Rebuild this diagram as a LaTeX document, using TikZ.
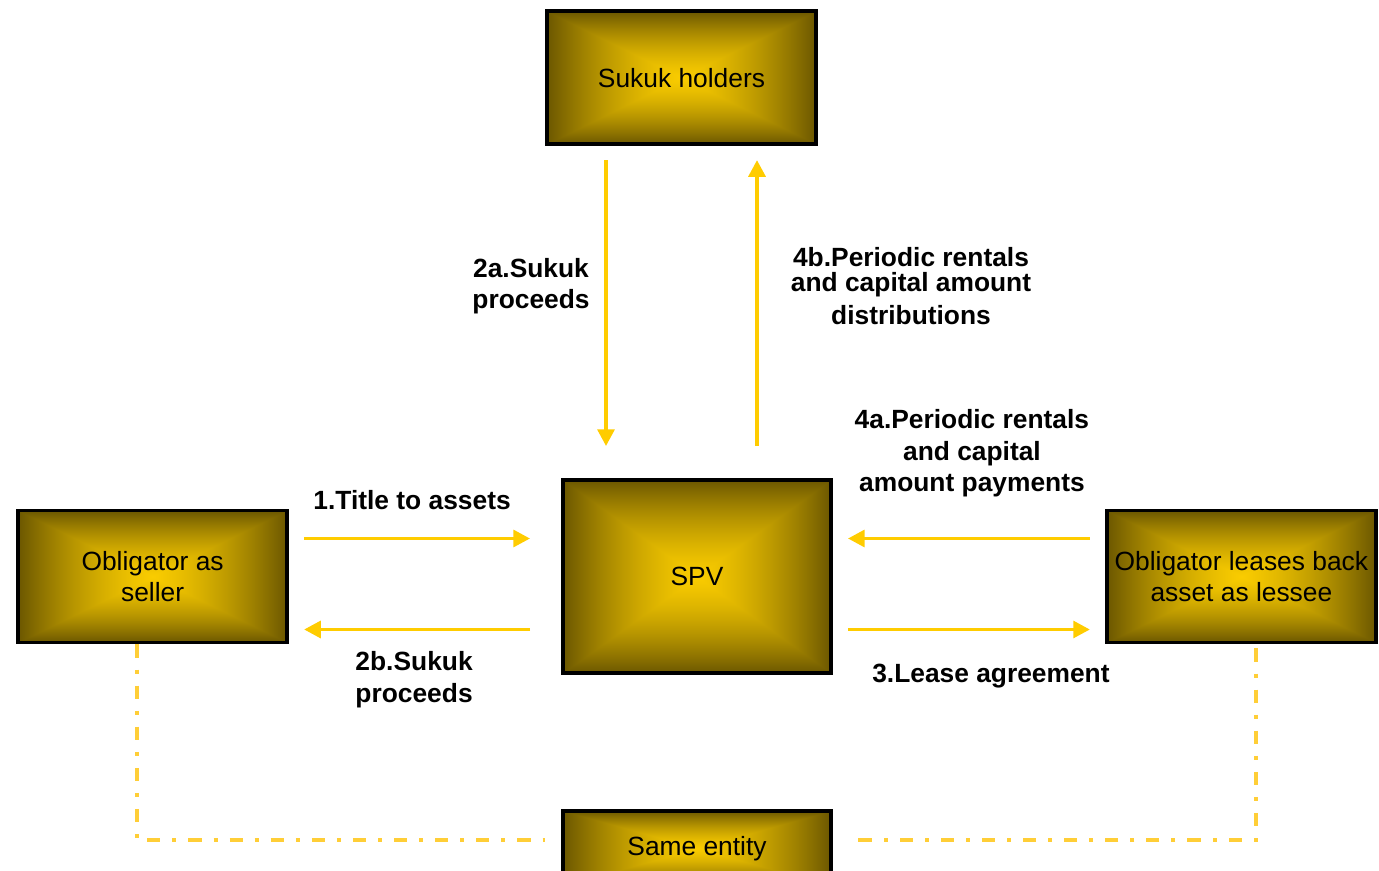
\documentclass[tikz,border=0pt]{standalone}
\usepackage{fontspec}
\setmainfont{Liberation Sans}
\usetikzlibrary{arrows.meta,positioning}
\definecolor{sukukgold}{RGB}{255,204,0}
\definecolor{linkgold}{RGB}{255,206,55}
% yellow centre fading to dark olive at the border
\pgfdeclarefunctionalshading{boxglow}{\pgfpoint{0bp}{0bp}}{\pgfpoint{100bp}{100bp}}{}{
 50 sub abs exch 50 sub abs 2 copy lt {exch} if pop 25 div
 dup 1 gt {pop 1} if
 dup dup mul add 2 div
 dup 0.56 mul 0.98 exch sub exch
 dup 0.46 mul 0.80 exch sub exch
 pop 0
}
\tikzstyle{party} = [rectangle, draw=black, line width=2.2pt, shading=boxglow,
    align=center, font=\fontsize{15}{18}\selectfont, minimum width=5.38cm]
\tikzstyle{flow} = [draw, sukukgold, line width=2.2pt, -{Triangle[length=9.5pt,width=9.5pt]}]
\tikzstyle{link} = [draw, linkgold, line width=2pt, dash pattern=on 7.5pt off 6.8pt on 2.3pt off 6.8pt]
\tikzstyle{lbl} = [font=\bfseries\fontsize{15}{18}\selectfont, align=center, inner sep=0pt, text=black]

\begin{document}
\begin{tikzpicture}
\useasboundingbox (0,0) rectangle (27.58,-17.42);
\node[party, minimum width=5.36cm, minimum height=3.86cm] (spv) at (13.94,-11.53) {SPV};
\node[party, minimum height=2.66cm, above=6.64cm of spv, xshift=-0.31cm] (holders) {Sukuk holders};
\node[party, minimum height=2.64cm, left=5.44cm of spv] (seller) {Obligator as\\seller};
\node[party, minimum height=2.64cm, right=5.44cm of spv] (lessee) {Obligator leases back\\asset as lessee};
\node[party, minimum width=5.36cm, minimum height=1.5cm, below=2.68cm of spv] (same) {Same entity};
%Vertical flows:
\coordinate (c2a) at ([xshift=-1.51cm]holders.south);
\coordinate (c4b) at ([xshift=1.51cm]holders.south);
\path(c2a)edge[flow, shorten <=0.28cm, shorten >=0.64cm]node[lbl, xshift=-1.5cm, yshift=0.52cm](l2a){2a.Sukuk\\proceeds}(c2a |- spv.north);
\path(c4b |- spv.north)edge[flow, shorten <=0.64cm, shorten >=0.28cm]node[lbl, xshift=3.08cm, yshift=0.52cm](l4b){4b.Periodic rentals\\[-3.8pt]and capital amount\\[0.8pt]distributions}(c4b);
%Left flows:
\path([yshift=0.76cm]seller.east)edge[flow, shorten <=0.3cm, shorten >=0.62cm]node[lbl, xshift=-0.26cm, yshift=0.76cm](l1){1.Title to assets}([yshift=0.76cm]spv.west);
\path([yshift=-1.06cm]spv.west)edge[flow, shorten <=0.62cm, shorten >=0.3cm]node[lbl, xshift=-0.22cm, yshift=-1.0cm](l2b){2b.Sukuk\\proceeds}([yshift=-1.06cm]seller.east);
%Right flows:
\path([yshift=0.76cm]lessee.west)edge[flow, shorten <=0.3cm, shorten >=0.3cm]node[lbl, xshift=0.06cm, yshift=1.70cm](l4a){4a.Periodic rentals\\and capital\\amount payments}([yshift=0.76cm]spv.east);
\path([yshift=-1.06cm]spv.east)edge[flow, shorten <=0.3cm, shorten >=0.3cm]node[lbl, xshift=0.44cm, yshift=-0.94cm](l3){3.Lease agreement}([yshift=-1.06cm]lessee.west);
%Same entity links:
\draw[link, shorten >=0.32cm]([xshift=-0.31cm]seller.south) |- ([yshift=0.17cm]same.west);
\draw[link, shorten >=0.3cm]([xshift=0.29cm, yshift=-0.08cm]lessee.south) |- ([yshift=0.17cm]same.east);
\end{tikzpicture}
\end{document}
